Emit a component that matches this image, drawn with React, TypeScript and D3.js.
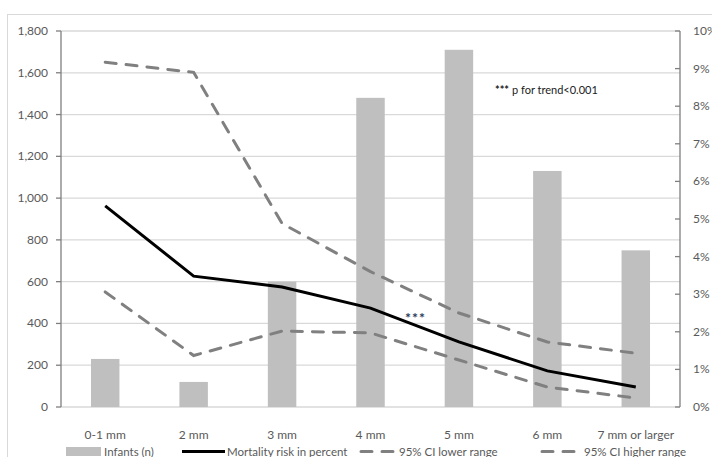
import React from "react";
import * as d3 from "d3";

const categories = ["0-1 mm", "2 mm", "3 mm", "4 mm", "5 mm", "6 mm", "7 mm or larger"];
const infants = [230, 120, 600, 1480, 1710, 1130, 750];
const mortality = [5.35, 3.48, 3.19, 2.63, 1.73, 0.96, 0.53];
const ciLower = [3.06, 1.37, 2.02, 1.97, 1.25, 0.53, 0.24];
const ciHigher = [9.17, 8.9, 4.88, 3.6, 2.5, 1.73, 1.43];
const leftTicks = [0, 200, 400, 600, 800, 1000, 1200, 1400, 1600, 1800];
const rightTicks = [0, 1, 2, 3, 4, 5, 6, 7, 8, 9, 10];
const legendItems = ["Infants (n)", "Mortality risk in percent", "95% CI lower range", "95% CI higher range"];

const W = 712;
const H = 457;
const L = 61;
const R = 680;
const T = 31;
const B = 407;
const FONT = "Lato, Carlito, Calibri, sans-serif";
const LABEL = "#595959";
const GRID = "#d9d9d9";
const AXIS = "#7f7f7f";
const DASH = "#808080";

export default function App() {
  const x = d3.scaleBand<string>().domain(categories).range([L, R]).padding(0);
  const yL = d3.scaleLinear().domain([0, 1800]).range([B, T]);
  const yR = d3.scaleLinear().domain([0, 10]).range([B, T]);
  const bw = x.bandwidth() * 0.322;
  const cx = (c: string) => (x(c) as number) + x.bandwidth() / 2;
  const line = d3
    .line<number>()
    .x((_, i) => cx(categories[i]))
    .y((d) => yR(d));

  return (
    <svg
      width={W}
      height={H}
      style={{ position: "absolute", left: 0, top: 0, background: "#fff" }}
    >
      <rect x={7.5} y={14.5} width={W + 20} height={H + 20} fill="#fff" stroke={GRID} />
      {leftTicks.map((t) => (
        <line key={"g" + t} x1={L} x2={R} y1={yL(t)} y2={yL(t)} stroke={GRID} strokeWidth={1.3} />
      ))}
      {infants.map((v, i) => (
        <rect
          key={"b" + i}
          x={cx(categories[i]) - bw / 2}
          y={yL(v)}
          width={bw}
          height={yL(0) - yL(v)}
          fill="#bfbfbf"
        />
      ))}
      <line x1={L} x2={L} y1={T} y2={B} stroke={AXIS} strokeWidth={1.3} />
      {leftTicks.map((t) => (
        <g key={"lt" + t}>
          <line x1={L - 5} x2={L} y1={yL(t)} y2={yL(t)} stroke={AXIS} strokeWidth={1.3} />
          <text x={48} y={yL(t) + 4} textAnchor="end" fontFamily={FONT} fontSize={12} fill={LABEL}>
            {d3.format(",")(t)}
          </text>
        </g>
      ))}
      <line x1={R} x2={R} y1={T} y2={B} stroke={AXIS} strokeWidth={1.3} />
      {rightTicks.map((t) => (
        <g key={"rt" + t}>
          <line x1={R - 5} x2={R} y1={yR(t)} y2={yR(t)} stroke={AXIS} strokeWidth={1.3} />
          <text x={693} y={yR(t) + 4} textAnchor="start" fontFamily={FONT} fontSize={12} fill={LABEL}>
            {t + "%"}
          </text>
        </g>
      ))}
      {categories.map((c) => (
        <text key={"c" + c} x={cx(c)} y={439} textAnchor="middle" fontFamily={FONT} fontSize={12} fill={LABEL}>
          {c}
        </text>
      ))}
      <path d={line(ciLower) || ""} fill="none" stroke={DASH} strokeWidth={3} strokeDasharray="11,10" strokeLinecap="round" />
      <path d={line(ciHigher) || ""} fill="none" stroke={DASH} strokeWidth={3} strokeDasharray="11,10" strokeLinecap="round" />
      <path d={line(mortality) || ""} fill="none" stroke="#000" strokeWidth={3} />
      <text x={405} y={323} fontFamily={FONT} fontSize={14} fontWeight="bold" fill="#2a3a5a" letterSpacing={1}>
        ***
      </text>
      <text x={495} y={94} fontFamily={FONT} fontSize={11} fill="#1a1a1a">
        <tspan fontWeight="bold">***</tspan>
        <tspan dx={3}>p for trend&lt;0.001</tspan>
      </text>
      {/* legend */}
      <g fontFamily={FONT} fontSize={11.5} fill={LABEL}>
        <rect x={66} y={447} width={35} height={9} fill="#bfbfbf" />
        <text x={104} y={456}>{legendItems[0]}</text>
        <line x1={182} x2={225} y1={451.5} y2={451.5} stroke="#000" strokeWidth={3} />
        <text x={227} y={456}>{legendItems[1]}</text>
        <line x1={361} x2={396} y1={451.5} y2={451.5} stroke={DASH} strokeWidth={3} strokeDasharray="11,10" strokeLinecap="round" />
        <text x={399} y={456}>{legendItems[2]}</text>
        <line x1={542} x2={578} y1={451.5} y2={451.5} stroke={DASH} strokeWidth={3} strokeDasharray="11,10" strokeLinecap="round" />
        <text x={584} y={456}>{legendItems[3]}</text>
      </g>
    </svg>
  );
}
